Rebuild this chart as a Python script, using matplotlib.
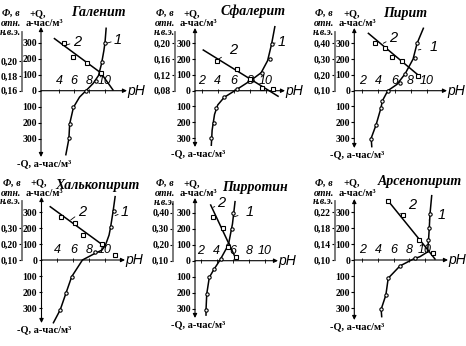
import matplotlib
matplotlib.use('Agg')
import matplotlib.pyplot as plt

W, H = 466, 346

SERIF = ['Liberation Serif', 'DejaVu Serif']
HAND = ['Liberation Sans Narrow', 'Liberation Sans', 'DejaVu Sans']

q_ticks = [-300, -200, -100, 0, 100, 200, 300]

# --- Галенит ---
gal_ph1 = [4.9, 5.3, 5.4, 5.9, 6.7, 7.55, 8.5, 9.2, 9.6, 9.9, 10.05, 10.2]
gal_q1 = [-400, -300, -208, -104, -40, 0, 46, 95, 170, 250, 300, 390]
gal_mph1 = [5.3, 5.4, 5.9, 7.5, 8.9, 9.7, 10.05]
gal_mq1 = [-298, -208, -104, 0, 60, 181, 296]
gal_ph2 = [3.4, 9.5, 11.1]
gal_phi2 = [0.230, 0.184, 0.161]
gal_mph2 = [4.6, 5.83, 7.7, 9.47]
gal_mphi2 = [0.2245, 0.2056, 0.1976, 0.184]

# --- Сфалерит ---
sph_ph1 = [3.2, 3.3, 3.6, 4.0, 4.8, 6.4, 8.2, 9.4, 10.2, 10.7, 11.1]
sph_q1 = [-345, -250, -150, -90, -42, 9, 68, 114, 190, 296, 405]
sph_mph1 = [3.16, 3.53, 3.74, 4.77, 6.43, 8.2, 9.46, 10.5, 10.7]
sph_mq1 = [-301, -203, -111, -42, 9, 68, 114, 199, 296]
sph_ph2 = [2.2, 11.5]
sph_phi2 = [0.183, 0.066]
sph_mph2 = [3.87, 6.43, 8.0, 9.46, 10.9]
sph_mphi2 = [0.156, 0.134, 0.109, 0.088, 0.084]

# --- Пирит ---
pyr_ph1 = [3.17, 3.1, 3.7, 4.3, 4.5, 5.16, 6.3, 7.3, 8.3, 8.8, 9.58]
pyr_q1 = [-354, -300, -217, -111, -63, 0, 40, 106, 200, 300, 395]
pyr_mph1 = [3.04, 3.7, 4.32, 4.41, 5.16, 6.68, 7.3, 8.55, 8.76]
pyr_mq1 = [-308, -217, -111, -63, 0, 47, 106, 205, 304]
pyr_ph2 = [2.75, 9.17]
pyr_phi2 = [0.463, 0.189]
pyr_mph2 = [3.58, 4.82, 5.73, 6.9, 8.96]
pyr_mphi2 = [0.404, 0.368, 0.315, 0.288, 0.193]

# --- Халькопирит ---
chp_ph1 = [3.5, 4.35, 5.1, 5.8, 7.15, 8.6, 9.6, 10.05, 10.5, 10.7, 11.0, 11.26]
chp_q1 = [-392, -312, -204, -104, 0, 38, 62, 94, 156, 208, 302, 396]
chp_mph1 = [4.35, 5.1, 5.8, 8.75, 10.7, 11.13]
chp_mq1 = [-312, -204, -104, 52, 208, 306]
chp_ph2 = [3.1, 10.0]
chp_phi2 = [0.433, 0.183]
chp_mph2 = [4.4, 6.2, 7.2, 9.6, 11.3]
chp_mphi2 = [0.371, 0.333, 0.256, 0.198, 0.131]

# --- Пирротин ---
pyh_ph1 = [2.66, 2.66, 2.75, 3.07, 3.65, 4.4, 5.45, 5.95, 6.27]
pyh_q1 = [-340, -308, -208, -104, -54, 4, 100, 230, 369]
pyh_mph1 = [2.66, 2.75, 3.07, 3.65, 4.5, 5.4, 5.93, 6.0]
pyh_mq1 = [-308, -208, -104, -54, 9, 98, 196, 296]
pyh_ph2 = [3.24, 6.4]
pyh_phi2 = [0.448, 0.11]
pyh_mph2 = [3.5, 4.74, 5.43, 6.35]
pyh_mphi2 = [0.371, 0.302, 0.188, 0.125]

# --- Арсенопирит ---
ars_ph1 = [4.47, 4.4, 5.0, 5.3, 6.8, 8.5, 9.35, 10.3, 10.43, 10.53, 10.62, 10.84]
ars_q1 = [-354, -308, -219, -114, -37, 6, 21, 50, 122, 198, 286, 402]
ars_mph1 = [4.4, 5.0, 5.3, 6.8, 8.75, 10.43, 10.53, 10.62]
ars_mq1 = [-308, -219, -114, -37, 11, 125, 198, 286]
ars_ph2 = [5.3, 10.2, 11.26]
ars_phi2 = [0.2476, 0.129, 0.1024]
ars_mph2 = [5.3, 7.2, 9.26, 11.0]
ars_mphi2 = [0.2476, 0.2124, 0.15, 0.117]

panels = [
    dict(title='Галенит', title_xy=(98, 13), qx=41, y0=90.7, ph0=1.63, px_ph=7.6, px_q=16,
         x_tip=127, y_top=27, y_bot=157, phix=21.7, phi0=0.16, phi_step=0.0215,
         phi_ticks=[0.16, 0.18, 0.20], ph_ticks=[4, 6, 8, 10],
         c1=(gal_ph1, gal_q1), m1=(gal_mph1, gal_mq1), c2=(gal_ph2, gal_phi2), m2=(gal_mph2, gal_mphi2),
         lab1=((11.76, 317), (10.2, 296)), lab2=((6.33, 306), (5.0, 286))),
    dict(title='Сфалерит', title_xy=(253, 11), qx=195, y0=90.7, ph0=1.17, px_ph=8.04, px_q=15.8,
         x_tip=285, y_top=28, y_bot=147, phix=175, phi0=0.08, phi_step=0.04,
         phi_ticks=[0.08, 0.12, 0.16, 0.20], ph_ticks=[2, 4, 6, 8, 10],
         c1=(sph_ph1, sph_q1), m1=(sph_mph1, sph_mq1), c2=(sph_ph2, sph_phi2), m2=(sph_mph2, sph_mphi2),
         lab1=((12.0, 308), (10.9, 300)), lab2=((5.9, 258), (4.07, 199))),
    dict(title='Пирит', title_xy=(405, 13), qx=354.3, y0=90.7, ph0=1.0, px_ph=8.05, px_q=15.8,
         x_tip=447, y_top=28, y_bot=148, phix=335, phi0=0.10, phi_step=0.10,
         phi_ticks=[0.10, 0.20, 0.30, 0.40], ph_ticks=[2, 4, 6, 8, 10],
         c1=(pyr_ph1, pyr_q1), m1=(pyr_mph1, pyr_mq1), c2=(pyr_ph2, pyr_phi2), m2=(pyr_mph2, pyr_mphi2),
         lab1=((10.8, 277), (8.95, 258)), lab2=((5.8, 333), (4.6, 300))),
    dict(title='Халькопирит', title_xy=(97.5, 185), qx=41.5, y0=260, ph0=2.0, px_ph=7.95, px_q=16,
         x_tip=125, y_top=197, y_bot=323, phix=21.7, phi0=0.10, phi_step=0.10,
         phi_ticks=[0.10, 0.20, 0.30], ph_ticks=[4, 6, 8, 10],
         c1=(chp_ph1, chp_q1), m1=(chp_mph1, chp_mq1), c2=(chp_ph2, chp_phi2), m2=(chp_mph2, chp_mphi2),
         lab1=((12.5, 302), (11.25, 277)), lab2=((7.06, 302), (5.67, 250))),
    dict(title='Пирротин', title_xy=(255, 187), qx=195, y0=260.7, ph0=1.29, px_ph=8.04, px_q=16,
         x_tip=278, y_top=198, y_bot=318, phix=173.3, phi0=0.10, phi_step=0.10,
         phi_ticks=[0.10, 0.20, 0.30, 0.40], ph_ticks=[2, 4, 6, 8, 10],
         c1=(pyh_ph1, pyh_q1), m1=(pyh_mph1, pyh_mq1), c2=(pyh_ph2, pyh_phi2), m2=(pyh_mph2, pyh_mphi2),
         lab1=((8.15, 306), (6.18, 275)), lab2=((4.6, 359), (3.56, 334))),
    dict(title='Арсенопирит', title_xy=(420, 182), qx=354.3, y0=260, ph0=0.98, px_ph=7.85, px_q=16,
         x_tip=448, y_top=199, y_bot=320, phix=335, phi0=0.10, phi_step=0.04,
         phi_ticks=[0.10, 0.14, 0.18, 0.22], ph_ticks=[2, 4, 6, 8, 10],
         c1=(ars_ph1, ars_q1), m1=(ars_mph1, ars_mq1), c2=(ars_ph2, ars_phi2), m2=(ars_mph2, ars_mphi2),
         lab1=((12.1, 281), (10.5, 250)), lab2=((8.29, 344), (6.8, 288))),
]


def ftext(fig, x, y, s, **kw):
    fig.text(x / W, 1 - y / H, s, ha='center', va='center', **kw)


def draw_panel(fig, p):
    qx, y0 = p['qx'], p['y0']
    ax = fig.add_axes([qx / W, 1 - p['y_bot'] / H, (p['x_tip'] - qx) / W, (p['y_bot'] - p['y_top']) / H])
    ax.patch.set_visible(False)
    ax.set_xlim(p['ph0'], p['ph0'] + (p['x_tip'] - qx) / p['px_ph'])
    qlo = (y0 - p['y_bot']) / p['px_q'] * 100
    qhi = (y0 - p['y_top']) / p['px_q'] * 100
    ax.set_ylim(qlo, qhi)
    for s in ax.spines.values():
        s.set_visible(False)
    ax.spines['top'].set_position(('data', 0))

    # Q axis (arrows both ways) and pH axis
    ap = dict(arrowstyle='<|-|>', lw=0.8, color='k', mutation_scale=6, shrinkA=0, shrinkB=0)
    ax.annotate('', xy=(0, 1), xytext=(0, 0), xycoords='axes fraction', arrowprops=ap)
    ap = dict(arrowstyle='-|>', lw=0.8, color='k', mutation_scale=6, shrinkA=0, shrinkB=0)
    ax.annotate('', xy=(1, 0), xytext=(0, 0), xycoords=('axes fraction', 'data'), arrowprops=ap)
    ax.annotate('pH', xy=(1, 0), xycoords=('axes fraction', 'data'), xytext=(0.5, 0),
                textcoords='offset points', ha='left', va='center', fontsize=10,
                style='italic', family=HAND)

    ax.set_yticks(q_ticks, [str(abs(v)) for v in q_ticks])
    ax.tick_params(axis='y', direction='out', length=2, width=0.8, pad=1, labelsize=7)
    for t in ax.get_yticklabels():
        t.set_family(SERIF)
        t.set_weight('bold')
    ax.xaxis.set_ticks_position('top')
    ax.set_xticks(p['ph_ticks'], [str(v) for v in p['ph_ticks']])
    ax.tick_params(axis='x', direction='inout', length=3, width=0.6, pad=1.5, labelsize=9)
    for t in ax.get_xticklabels():
        t.set_family(HAND)
        t.set_style('italic')

    # Φ axis
    k = p['phi_step'] / 100
    ax2 = ax.twinx()
    ax2.set_ylim(p['phi0'] + qlo * k, p['phi0'] + qhi * k)
    for s in ax2.spines.values():
        s.set_visible(False)
    ax2.yaxis.set_ticks_position('left')
    sp = ax2.spines['left']
    sp.set_visible(True)
    sp.set_position(('outward', (qx - p['phix']) * 72 / 100))
    sp.set_bounds(p['phi0'], p['phi0'] + 370 * k)
    sp.set_color('#707070')
    sp.set_linewidth(1.3)
    ax2.set_yticks(p['phi_ticks'], [f'{v:.2f}'.replace('.', ',') for v in p['phi_ticks']])
    ax2.tick_params(axis='y', direction='out', length=2, width=0.8, pad=1, labelsize=7)
    for t in ax2.get_yticklabels():
        t.set_family(SERIF)
        t.set_weight('bold')

    # curve 1: charge Q, curve 2: potential Φ
    ax.plot(*p['c1'], color='k', lw=1.1, clip_on=False, zorder=3)
    ax.plot(*p['m1'], 'o', ms=2.4, mfc='white', mec='k', mew=0.8, clip_on=False, zorder=4)
    ax2.plot(*p['c2'], color='k', lw=1.1, clip_on=False, zorder=3)
    ax2.plot(*p['m2'], 's', ms=2.4, mfc='white', mec='k', mew=0.8, clip_on=False, zorder=4)

    for txt, (tpos, end) in (('1', p['lab1']), ('2', p['lab2'])):
        ax.annotate(txt, xy=end, xytext=tpos, ha='center', va='center', fontsize=10.5,
                    style='italic', family=HAND, annotation_clip=False,
                    arrowprops=dict(arrowstyle='-', lw=0.6, color='k', shrinkA=4, shrinkB=0))

    # headers
    hb = dict(family=SERIF, weight='bold', style='italic', fontsize=7)
    ftext(fig, qx - 30, y0 - 77, 'Ф, в', **hb)
    ftext(fig, qx - 30, y0 - 67, 'отн.', **hb)
    ftext(fig, qx - 31, y0 - 58, 'н.в.э.', **hb)
    ftext(fig, qx - 3, y0 - 77, '+Q,', family=SERIF, weight='bold', fontsize=7.5)
    ftext(fig, qx + 3, y0 - 67, 'а-час/м³', family=SERIF, weight='bold', fontsize=7.5)
    ftext(fig, qx + 3, p['y_bot'] + 7, '-Q, а-час/м³', family=SERIF, weight='bold', fontsize=7.5)
    ftext(fig, *p['title_xy'], p['title'], family=SERIF, weight='bold', style='italic', fontsize=10)


fig = plt.figure(figsize=(W / 100, H / 100), dpi=100)
for p in panels:
    draw_panel(fig, p)
fig.savefig('out.png', dpi=100)
